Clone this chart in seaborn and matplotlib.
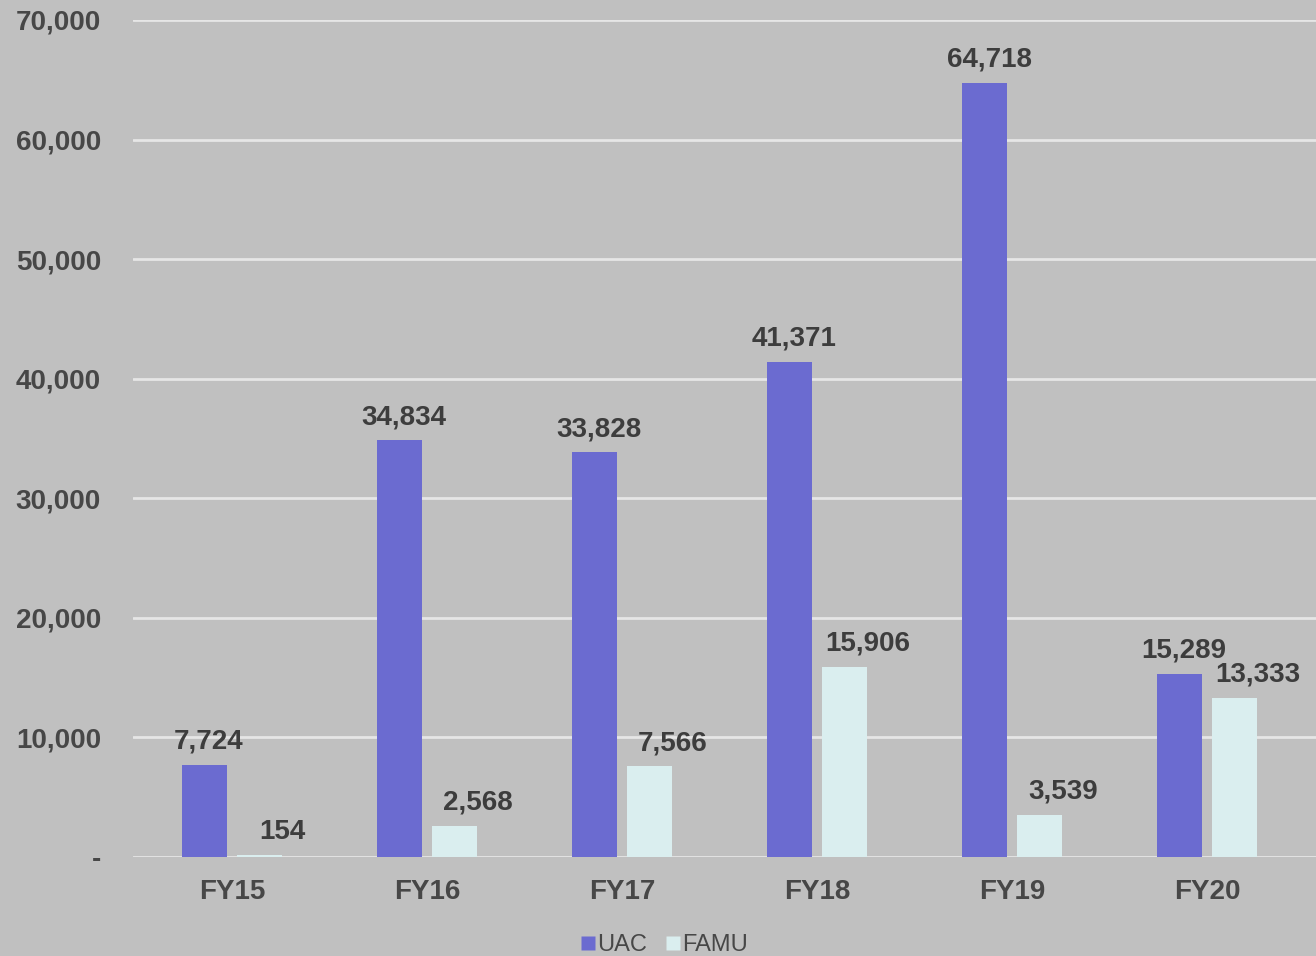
import matplotlib
matplotlib.use("Agg")
import matplotlib.pyplot as plt
import seaborn as sns
import pandas as pd
from matplotlib.lines import Line2D

years = ["FY15", "FY16", "FY17", "FY18", "FY19", "FY20"]
uac = [7724, 34834, 33828, 41371, 64718, 15289]
famu = [154, 2568, 7566, 15906, 3539, 13333]
series_names = ["UAC", "FAMU"]
yticks = [0, 10000, 20000, 30000, 40000, 50000, 60000, 70000]

colors = {"UAC": "#6b6bd0", "FAMU": "#daeeef"}
bg = "#c0c0c0"
txt = "#474747"

df = pd.DataFrame({
    "year": years * 2,
    "value": uac + famu,
    "series": [series_names[0]] * len(years) + [series_names[1]] * len(years),
})

sns.set_theme(style="white")
plt.rcParams["font.family"] = ["Liberation Sans", "DejaVu Sans"]

fig = plt.figure(figsize=(13.16, 9.56), dpi=100, facecolor=bg)
ax = fig.add_axes([0.101, 0.1036, 0.899, 0.8755])
ax.set_facecolor(bg)

sns.barplot(data=df, x="year", y="value", hue="series", palette=colors,
            width=0.564, gap=0.18, ax=ax, legend=False, saturation=1,
            edgecolor="none")

label_dx = [3, 16.5]  # points, horizontal offset of value labels per series
for c, dx in zip(ax.containers, label_dx):
    for patch, v in zip(c.patches, c.datavalues):
        ax.annotate(f"{v:,.0f}", (patch.get_x() + patch.get_width() / 2, v),
                    xytext=(dx, 7.5), textcoords="offset points",
                    ha="center", va="bottom", fontsize=20,
                    fontweight="bold", color="#3d3d3d")

ax.set_ylim(0, 70000)
ax.set_xlim(-0.51, 5.557)
ax.set_yticks(yticks)
ax.set_yticklabels(["-" if v == 0 else f"{v:,}" for v in yticks])
ax.yaxis.grid(True, color="#e6e6e6", linewidth=2)
ax.set_axisbelow(True)
for s in ax.spines.values():
    s.set_visible(False)
ax.tick_params(axis="y", length=0, pad=23, labelsize=20, labelcolor=txt)
ax.tick_params(axis="x", length=0, pad=16, labelsize=20, labelcolor=txt)
for lab in ax.get_xticklabels() + ax.get_yticklabels():
    lab.set_fontweight("bold")
ax.set_xlabel("")
ax.set_ylabel("")

handles = [Line2D([], [], marker="s", linestyle="none", markersize=10,
                  markerfacecolor=colors[n], markeredgecolor="none") for n in series_names]
fig.legend(handles, series_names, loc="lower center", bbox_to_anchor=(0.503, -0.022),
           ncol=2, frameon=False, fontsize=17, labelcolor=txt,
           handletextpad=-0.1, columnspacing=0.6, handlelength=1.0)

fig.savefig("out.png", dpi=100, facecolor=bg)
